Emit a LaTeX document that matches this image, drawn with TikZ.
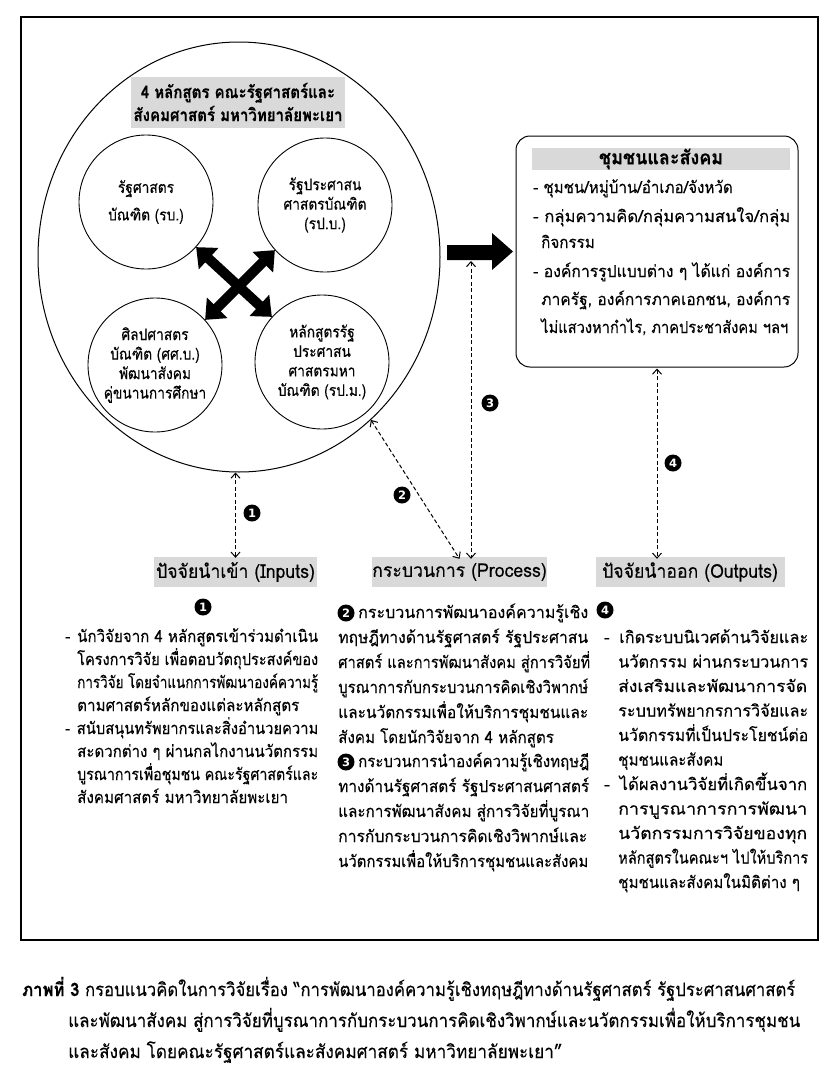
\documentclass[tikz,border=0pt]{standalone}
\usepackage{fontspec}
\usepackage{graphicx}
\newfontfamily\thb[Script=Thai,FakeStretch=0.92,FakeBold=0.25]{Loma}
\newfontfamily\thc[Script=Thai,FakeStretch=0.86,FakeBold=0.25]{Loma}
\newfontfamily\thl[Script=Thai,FakeStretch=0.93,FakeBold=0.2]{Loma}
\newfontfamily\dvs{DejaVu Sans}
\usetikzlibrary{arrows.meta,shapes.geometric}
\definecolor{hdr}{HTML}{D9D9D9}
\newcommand\dashA{\makebox[12pt][l]{-}}
\newcommand\dashC{\makebox[14pt][l]{-}}
\newcommand\fitw[2]{\resizebox{#1}{\height}{#2}}
\begin{document}
\begin{tikzpicture}[x=1pt,y=-1pt,
  txt/.style={font=\thb\fontsize{16.5}{20}\selectfont, anchor=base west, inner sep=0pt},
  ctxt/.style={font=\thc\fontsize{16}{19.5}\selectfont, align=center},
  smallc/.style={draw, circle, line width=0.9pt, minimum size=134pt, inner sep=0pt},
  lbl/.style={fill=hdr, inner sep=0pt, minimum height=30pt, font=\thl\fontsize{19}{22}\selectfont},
  captxt/.style={font=\thl\fontsize{18.5}{22}\selectfont, anchor=base west, inner sep=0pt},
  badge/.style={circle, fill=black, text=white, inner sep=0pt, minimum size=17pt, font=\dvs\bfseries\fontsize{11.5}{11.5}\selectfont},
  dar/.style={line width=1pt, dash pattern=on 4pt off 2.5pt, {Straight Barb[length=5pt,width=9pt]}-{Straight Barb[length=5pt,width=9pt]}},
  thick arrow/.style={line width=10pt, {Triangle[length=17pt,width=28pt]}-{Triangle[length=17pt,width=28pt]}}
]
\useasboundingbox (0,0) rectangle (839,1079);
\fill[white] (0,0) rectangle (839,1079);
% frame
\draw[line width=1.4pt] (21,17) rectangle (818,940);

% big circle
\node[draw, ellipse, line width=1pt, minimum width=402pt, minimum height=430pt, inner sep=0pt] (big) at (239,257) {};
\node[fill=hdr, minimum width=214pt, minimum height=51pt, inner sep=0pt, align=center,
      font=\thc\bfseries\fontsize{17.5}{23}\selectfont] (ttl) at (238,102)
      {4 หลักสูตร คณะรัฐศาสตร์และ\\สังคมศาสตร์ มหาวิทยาลัยพะเยา};

\node[smallc, ctxt] (tl) at (146,202) {รัฐศาสตร\\[8pt]บัณฑิต (รบ.)};
\node[smallc, ctxt] (tr) at (325,205) {รัฐประศาสน\\ศาสตรบัณฑิต\\(รป.บ.)};
\node[smallc, ctxt] (bl) at (155,365) {ศิลปศาสตร\\บัณฑิต (ศศ.บ.)\\พัฒนาสังคม\\คู่ขนานการศึกษา};
\node[smallc, ctxt] (br) at (322,362) {หลักสูตรรัฐ\\ประศาสน\\ศาสตรมหา\\บัณฑิต (รป.ม.)};

\draw[thick arrow] (tl.-42) -- (br.138);
\draw[thick arrow] (bl.42) -- (tr.-138);

% block arrow
\fill[black] (447,245) -- (492,245) -- (492,233) -- (513,251.5) -- (492,270) -- (492,260) -- (447,260) -- cycle;
\coordinate (blkb) at (471,261);

% community box
\node[draw, line width=1pt, rounded corners=14pt, minimum width=282pt, minimum height=231pt, inner sep=0pt] (comm) at (657,251.5) {};
\node[fill=hdr, minimum width=258pt, minimum height=22pt, inner sep=0pt,
      font=\thb\bfseries\fontsize{19.5}{20}\selectfont] (commh) at (661,159) {ชุมชนและสังคม};
\node[txt] (cm1) at (533,193) {- ชุมชน/หมู่บ้าน/อำเภอ/จังหวัด};
\node[txt] (cm2) at (533,222) {\fitw{257pt}{- กลุ่มความคิด/กลุ่มความสนใจ/กลุ่ม}};
\node[txt] (cm3) at (541,248) {กิจกรรม};
\node[txt] (cm4) at (533,277) {\fitw{257pt}{- องค์การรูปแบบต่าง ๆ ได้แก่ องค์การ}};
\node[txt] (cm5) at (541,305) {\fitw{249pt}{ภาครัฐ, องค์การภาคเอกชน, องค์การ}};
\node[txt] (cm6) at (541,333) {\fitw{247pt}{ไม่แสวงหากำไร, ภาคประชาสังคม ฯลฯ}};

% labels
\node[lbl, minimum width=163pt] (inp) at (235.5,572) {ปัจจัยนำเข้า (Inputs)};
\node[lbl, minimum width=175pt] (proc) at (459.5,572) {กระบวนการ (Process)};
\node[lbl, minimum width=189pt] (outp) at (690,572) {ปัจจัยนำออก (Outputs)};

% dashed connectors
\draw[dar] (inp.north |- big.south) -- ([yshift=-1pt]inp.north);
\draw[dar] (big.-51) -- ([yshift=-2pt]proc.north);
\draw[dar] (blkb) -- ([xshift=11.5pt,yshift=-2pt]proc.north);
\draw[dar] ([yshift=-1pt]comm.south) -- ([yshift=-2pt]comm.south |- outp.north);

\node[badge] (b1) at (252,513) {1};
\node[badge] (b2) at (402,495) {2};
\node[badge] (b3) at (490,403) {3};
\node[badge] (b4) at (673,463) {4};

% column 1
\node[badge] (c1b) at (203,607) {1};
\node[txt] (c1l0) at (65,642) {\fitw{253pt}{\dashA นักวิจัยจาก 4 หลักสูตรเข้าร่วมดำเนิน}};
\node[txt] (c1l1) at (77,665) {\fitw{241pt}{โครงการวิจัย เพื่อตอบวัตถุประสงค์ของ}};
\node[txt] (c1l2) at (77,688) {\fitw{241pt}{การวิจัย โดยจำแนกการพัฒนาองค์ความรู้}};
\node[txt] (c1l3) at (77,711) {ตามศาสตร์หลักของแต่ละหลักสูตร};
\node[txt] (c1l4) at (65,734) {\fitw{253pt}{\dashA สนับสนุนทรัพยากรและสิ่งอำนวยความ}};
\node[txt] (c1l5) at (77,757) {\fitw{241pt}{สะดวกต่าง ๆ ผ่านกลไกงานนวัตกรรม}};
\node[txt] (c1l6) at (77,780) {\fitw{241pt}{บูรณาการเพื่อชุมชน คณะรัฐศาสตร์และ}};
\node[txt] (c1l7) at (77,803) {สังคมศาสตร์ มหาวิทยาลัยพะเยา};

% column 2
\node[badge] (c2b2) at (346,613) {2};
\node[txt] (c2l0) at (358,618) {\fitw{230pt}{กระบวนการพัฒนาองค์ความรู้เชิง}};
\node[txt] (c2l1) at (338,643) {\fitw{250pt}{ทฤษฎีทางด้านรัฐศาสตร์ รัฐประศาสน}};
\node[txt] (c2l2) at (338,668) {\fitw{252pt}{ศาสตร์ และการพัฒนาสังคม สู่การวิจัยที่}};
\node[txt] (c2l3) at (338,693) {\fitw{250pt}{บูรณาการกับกระบวนการคิดเชิงวิพากษ์}};
\node[txt] (c2l4) at (338,718) {\fitw{250pt}{และนวัตกรรมเพื่อให้บริการชุมชนและ}};
\node[txt] (c2l5) at (338,743) {สังคม โดยนักวิจัยจาก 4 หลักสูตร};
\node[badge] (c2b3) at (346,762) {3};
\node[txt] (c2l6) at (358,767) {\fitw{231pt}{กระบวนการนำองค์ความรู้เชิงทฤษฎี}};
\node[txt] (c2l7) at (338,792) {\fitw{251pt}{ทางด้านรัฐศาสตร์ รัฐประศาสนศาสตร์}};
\node[txt] (c2l8) at (338,817) {\fitw{251pt}{และการพัฒนาสังคม สู่การวิจัยที่บูรณา}};
\node[txt] (c2l9) at (338,842) {\fitw{249pt}{การกับกระบวนการคิดเชิงวิพากษ์และ}};
\node[txt] (c2l10) at (338,867) {\fitw{250pt}{นวัตกรรมเพื่อให้บริการชุมชนและสังคม}};

% column 3
\node[badge] (c3b) at (605,610) {4};
\node[txt] (c3l0) at (604,643) {\fitw{204pt}{\dashC เกิดระบบนิเวศด้านวิจัยและ}};
\node[txt] (c3l1) at (618,667.5) {\fitw{190pt}{นวัตกรรม ผ่านกระบวนการ}};
\node[txt] (c3l2) at (618,692) {\fitw{189pt}{ส่งเสริมและพัฒนาการจัด}};
\node[txt] (c3l3) at (618,716.5) {\fitw{190pt}{ระบบทรัพยากรการวิจัยและ}};
\node[txt] (c3l4) at (618,741) {\fitw{190pt}{นวัตกรรมที่เป็นประโยชน์ต่อ}};
\node[txt] (c3l5) at (618,765.5) {ชุมชนและสังคม};
\node[txt] (c3l6) at (604,790) {\fitw{203pt}{\dashC ได้ผลงานวิจัยที่เกิดขึ้นจาก}};
\node[txt] (c3l7) at (618,814.5) {\fitw{189pt}{การบูรณาการการพัฒนา}};
\node[txt] (c3l8) at (618,839) {\fitw{189pt}{นวัตกรรมการวิจัยของทุก}};
\node[txt] (c3l9) at (618,863.5) {\fitw{190pt}{หลักสูตรในคณะฯ ไปให้บริการ}};
\node[txt] (c3l10) at (618,888) {ชุมชนและสังคมในมิติต่าง ๆ};

% caption
\node[captxt] (cap1) at (22,996) {\fitw{773pt}{{\bfseries ภาพที่ 3} กรอบแนวคิดในการวิจัยเรื่อง “การพัฒนาองค์ความรู้เชิงทฤษฎีทางด้านรัฐศาสตร์ รัฐประศาสนศาสตร์}};
\node[captxt] (cap2) at (68,1027) {\fitw{732pt}{และพัฒนาสังคม สู่การวิจัยที่บูรณาการกับกระบวนการคิดเชิงวิพากษ์และนวัตกรรมเพื่อให้บริการชุมชน}};
\node[captxt] (cap3) at (68,1058) {และสังคม โดยคณะรัฐศาสตร์และสังคมศาสตร์ มหาวิทยาลัยพะเยา”};
\end{tikzpicture}
\end{document}
